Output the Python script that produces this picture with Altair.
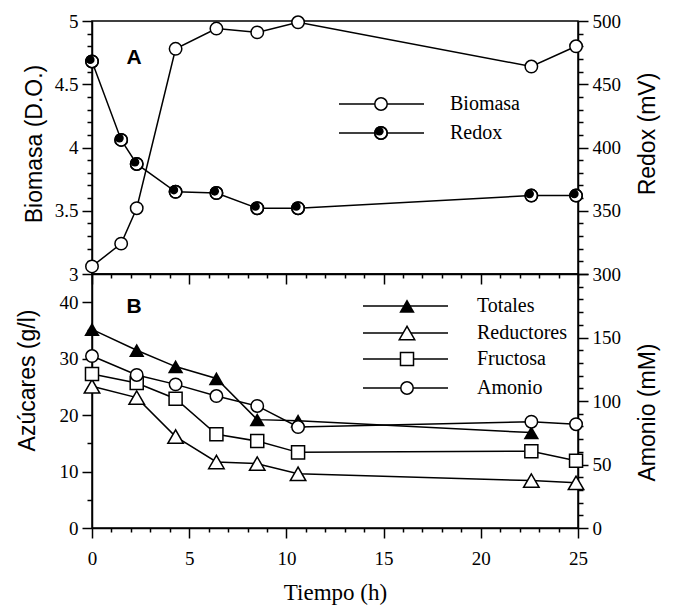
import altair as alt
import pandas as pd

# ---------------- data ----------------
time_a = [0, 1.5, 2.3, 4.3, 6.4, 8.5, 10.6, 22.6, 24.9]
biomasa = [3.06, 3.24, 3.52, 4.78, 4.94, 4.91, 4.99, 4.64, 4.80]
redox = [468, 406, 387, 365, 364, 352, 352, 362, 362]

time_b = [0, 2.3, 4.3, 6.4, 8.5, 10.6, 22.6, 24.9]
totales = [35.2, 31.5, 28.6, 26.5, 19.2, 19.0, 16.9, None]
reductores = [25.1, 23.1, 16.2, 11.7, 11.4, 9.6, 8.4, 8.0]
fructosa = [27.3, 25.7, 22.9, 16.6, 15.4, 13.4, 13.6, 11.9]
amonio = [135.4, 120.5, 113.1, 103.9, 96.1, 79.5, 83.7, 81.7]

x_ticks = list(range(0, 26))
bio_ticks = [round(3 + 0.1 * i, 1) for i in range(21)]
redox_ticks = list(range(300, 501, 10))
azu_ticks = list(range(0, 45, 5))
amo_ticks = list(range(0, 201, 10))

legend_a = ["Biomasa", "Redox"]
legend_b = ["Totales", "Reductores", "Fructosa", "Amonio"]

dfA = pd.DataFrame({"t": time_a, "biomasa": biomasa, "redox": redox})
dfB = pd.DataFrame({"t": time_b, "totales": totales, "reductores": reductores,
                    "fructosa": fructosa, "amonio": amonio})

W, HA, HB = 486, 253, 254
SERIF = "Liberation Serif"
SANS = "Liberation Sans"
LW = 1.5
FMT = "~r"
CIRC = 155


def tsize(test, major=10, minor=5):
    return {"condition": {"test": test, "value": major}, "value": minor}


x_scale = alt.Scale(domain=[0, 25], nice=False)
x_major = "datum.value % 5 === 0"
xA = alt.X("t:Q", scale=x_scale,
           axis=alt.Axis(values=x_ticks, labels=False, title=None,
                         tickSize=tsize(x_major, 10, 4)))
xB = alt.X("t:Q", scale=x_scale,
           axis=alt.Axis(values=x_ticks, title="Tiempo (h)", titleFont=SERIF,
                         labelExpr=x_major + " ? datum.label : ''", format=FMT,
                         tickSize=tsize(x_major, 10, 4), labelPadding=11,
                         titlePadding=13))

bio_major = "abs(datum.value*2 - round(datum.value*2)) < 0.01"
yBio = alt.Y("biomasa:Q", scale=alt.Scale(domain=[3, 5], nice=False, zero=False),
             axis=alt.Axis(orient="left", values=bio_ticks, format=FMT,
                           labelExpr=bio_major + " ? datum.label : ''",
                           tickSize=tsize(bio_major), title="Biomasa (D.O.)",
                           titleX=-58, titleY=HA / 2 - 4, titleBaseline="middle",
                           titleAlign="center"))
red_major = "datum.value % 50 === 0"
yRed = alt.Y("redox:Q", scale=alt.Scale(domain=[300, 500], nice=False, zero=False),
             axis=alt.Axis(orient="right", values=redox_ticks, format=FMT,
                           labelExpr=red_major + " ? datum.label : ''",
                           tickSize=tsize(red_major), title="Redox (mV)",
                           titleAngle=270, titleX=69, titleY=HA / 2 - 14,
                           titleBaseline="middle", titleAlign="center"))

azu_major = "datum.value % 10 === 0"


def yAzu(field):
    return alt.Y(field + ":Q", scale=alt.Scale(domain=[0, 45], nice=False),
                 axis=alt.Axis(orient="left", values=azu_ticks, format=FMT,
                               labelExpr=azu_major + " ? datum.label : ''",
                               tickSize=tsize(azu_major), title="Azúcares (g/l)",
                               titleX=-65, titleY=106, titleBaseline="middle",
                               titleAlign="center"))


amo_major = "datum.value % 50 === 0"
yAmo = alt.Y("amonio:Q", scale=alt.Scale(domain=[0, 200], nice=False),
             axis=alt.Axis(orient="right", values=amo_ticks, format=FMT,
                           labelExpr="datum.value % 50 === 0 && datum.value < 200 ? datum.label : ''",
                           tickSize=tsize(amo_major), title="Amonio (mM)",
                           titleAngle=270, titleX=69, titleY=138,
                           titleBaseline="middle", titleAlign="center"))

# ---------------- marker styles ----------------
open_circle = dict(shape="circle", size=CIRC, filled=True, fill="white", stroke="black",
                   strokeWidth=LW, opacity=1)
redox_dot = dict(shape="circle", size=78, filled=True, color="black", xOffset=-1.8,
                 yOffset=-1.8, opacity=1)
circle_ring = dict(shape="circle", size=CIRC, filled=False, color="black", strokeWidth=LW,
                   opacity=1)
tri_filled = dict(shape="triangle-up", size=240, filled=True, color="black", opacity=1)
tri_open = dict(shape="triangle-up", size=240, filled=True, fill="white", stroke="black",
                strokeWidth=LW, opacity=1)
square_open = dict(shape="square", size=170, filled=True, fill="white", stroke="black",
                   strokeWidth=LW, opacity=1)

# ---------------- panel A ----------------
baseA = alt.Chart(dfA)
bio_layer = alt.layer(
    baseA.mark_line(color="black", strokeWidth=LW).encode(x=xA, y=yBio),
    baseA.mark_point(**open_circle).encode(x=xA, y=yBio),
)
red_layer = alt.layer(
    baseA.mark_line(color="black", strokeWidth=LW).encode(x=xA, y=yRed),
    baseA.mark_point(**open_circle).encode(x=xA, y=yRed),
    baseA.mark_point(**redox_dot).encode(x=xA, y=yRed),
    baseA.mark_point(**circle_ring).encode(x=xA, y=yRed),
)


def legend_row(name, y, x0, x1, xm, xt, markers):
    d = pd.DataFrame({"label": [name]})
    c = alt.Chart(d)
    layers = [c.mark_rule(color="black", strokeWidth=LW).encode(
        x=alt.value(x0), x2=alt.value(x1), y=alt.value(y))]
    for m in markers:
        layers.append(c.mark_point(**m).encode(x=alt.value(xm), y=alt.value(y)))
    layers.append(c.mark_text(font=SERIF, fontSize=20, align="left", baseline="middle",
                              color="black").encode(
        x=alt.value(xt), y=alt.value(y), text="label:N"))
    return alt.layer(*layers)


legA = alt.layer(
    legend_row(legend_a[0], 83, 247, 332, 289, 358, [open_circle]),
    legend_row(legend_a[1], 112, 247, 332, 289, 358, [open_circle, redox_dot, circle_ring]),
    alt.Chart(pd.DataFrame({"label": ["A"]})).mark_text(
        font=SANS, fontSize=21, fontWeight="bold", color="black", baseline="middle",
        align="center").encode(x=alt.value(42), y=alt.value(37), text="label:N"),
)

panelA = alt.layer(bio_layer, red_layer, legA).resolve_scale(y="independent").properties(
    width=W, height=HA)

# ---------------- panel B ----------------
baseB = alt.Chart(dfB)
sug_layer = alt.layer(
    baseB.mark_line(color="black", strokeWidth=LW).encode(x=xB, y=yAzu("totales")),
    baseB.mark_line(color="black", strokeWidth=LW).encode(x=xB, y=yAzu("reductores")),
    baseB.mark_line(color="black", strokeWidth=LW).encode(x=xB, y=yAzu("fructosa")),
    baseB.mark_point(**tri_filled).encode(x=xB, y=yAzu("totales")),
    baseB.mark_point(**tri_open).encode(x=xB, y=yAzu("reductores")),
    baseB.mark_point(**square_open).encode(x=xB, y=yAzu("fructosa")),
)
amo_layer = alt.layer(
    baseB.mark_line(color="black", strokeWidth=LW).encode(x=xB, y=yAmo),
    baseB.mark_point(**open_circle).encode(x=xB, y=yAmo),
)

legB = alt.layer(
    legend_row(legend_b[0], 32, 271, 356, 315, 385, [tri_filled]),
    legend_row(legend_b[1], 59, 271, 356, 315, 385, [tri_open]),
    legend_row(legend_b[2], 85, 271, 356, 315, 385, [square_open]),
    legend_row(legend_b[3], 114, 271, 356, 315, 385, [open_circle]),
    alt.Chart(pd.DataFrame({"label": ["B"]})).mark_text(
        font=SANS, fontSize=21, fontWeight="bold", color="black", baseline="middle",
        align="center").encode(x=alt.value(42), y=alt.value(33), text="label:N"),
)

panelB = alt.layer(sug_layer, amo_layer, legB).resolve_scale(y="independent").properties(
    width=W, height=HB)

chart = alt.vconcat(panelA, panelB, spacing=0, bounds="flush").properties(
    padding={"left": 7, "top": 3, "right": 5, "bottom": 5}
).configure_view(stroke="black", strokeWidth=LW).configure_axis(
    grid=False, domainColor="black", domainWidth=LW, tickColor="black", tickWidth=LW,
    labelFont=SERIF, labelFontSize=19, labelColor="black", labelPadding=4,
    titleFont=SANS, titleFontSize=23, titleFontWeight="normal", titleColor="black",
    labelFlush=False, labelOverlap=False
)

chart.save("out.html", embed_options={"renderer": "svg", "actions": False})
